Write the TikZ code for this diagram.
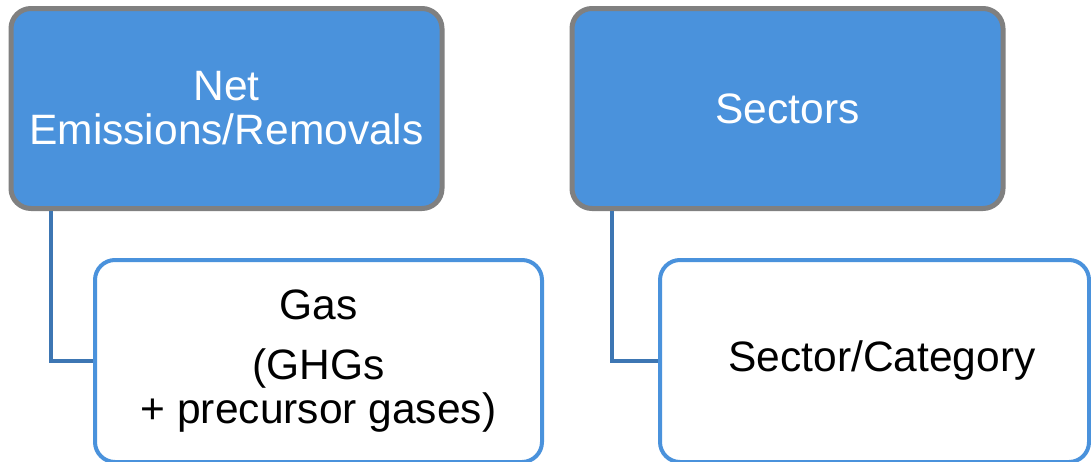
\documentclass[tikz,border=0pt]{standalone}
\usepackage{fontspec}
\setmainfont{Liberation Sans}
\definecolor{boxblue}{RGB}{74,146,220}
\definecolor{boxgray}{RGB}{128,128,128}
\definecolor{linkblue}{RGB}{61,118,179}
\begin{document}
\begin{tikzpicture}[x=1pt, y=-1pt,
		headbox/.style={draw=boxgray, line width=5pt, fill=boxblue, rounded corners=20pt,
			minimum width=431pt, minimum height=200pt, text=white, align=center,
			font=\fontsize{42.5}{44}\selectfont},
		itembox/.style={draw=boxblue, line width=4pt, fill=white, rounded corners=20pt,
			minimum height=202pt, text=black, align=center,
			font=\fontsize{42.5}{44}\selectfont},
		link/.style={draw=linkblue, line width=4pt}]
	\useasboundingbox (0,0) rectangle (1091,461);
	\clip (0,0) rectangle (1091,461);
	% top level boxes
	\node[headbox] (emis) at (226.5,108.5) {Net\\Emissions/Removals};
	\node[headbox] (sect) at (787.5,108.5) {Sectors};
	% second level boxes
	\node[itembox, minimum width=447pt] (gas) at (318.5,361) {Gas\\[16pt](GHGs\\+ precursor gases)};
	\node[itembox, minimum width=429pt] (cat) at (874.5,361) {\hspace*{15pt}Sector/Category};
	% connectors
	\draw[link] ([xshift=42.5pt]emis.south west) |- (gas.west);
	\draw[link] ([xshift=42.5pt]sect.south west) |- (cat.west);
\end{tikzpicture}
\end{document}
